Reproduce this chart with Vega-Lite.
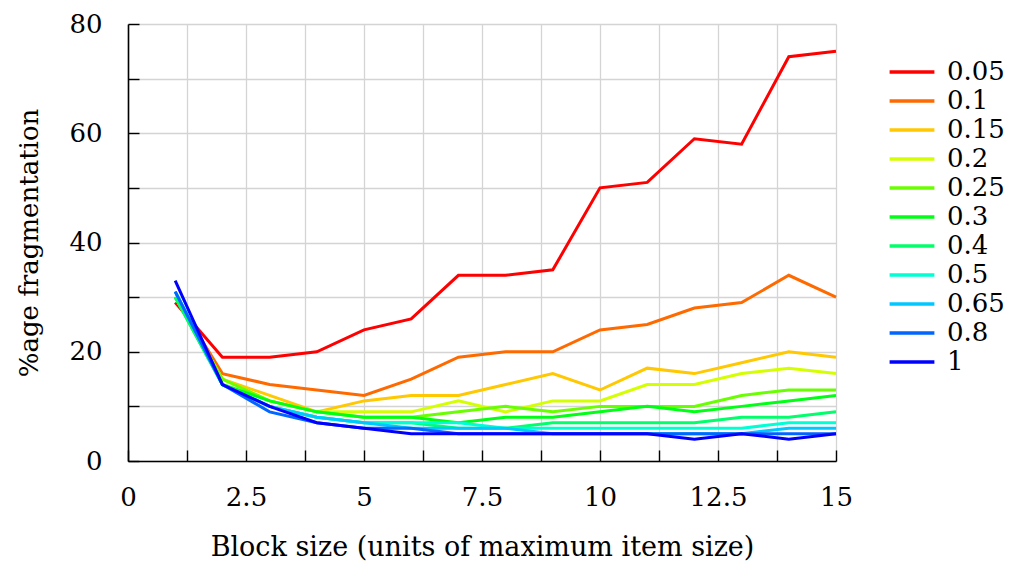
{
  "$schema": "https://vega.github.io/schema/vega-lite/v6.json",
  "width": 708,
  "height": 437,
  "autosize": {"type": "none"},
  "padding": {"left": 128, "top": 24, "right": 175, "bottom": 106},
  "background": "white",
  "config": {"view": {"stroke": null}, "font": "DejaVu Serif",
    "axis": {"labelFont": "DejaVu Serif", "titleFont": "DejaVu Serif"},
    "legend": {"labelFont": "DejaVu Serif"}},
  "datasets": {
    "d": [
      {"b":"0.05","x":1,"y":29},{"b":"0.05","x":2,"y":19},{"b":"0.05","x":3,"y":19},{"b":"0.05","x":4,"y":20},{"b":"0.05","x":5,"y":24},{"b":"0.05","x":6,"y":26},{"b":"0.05","x":7,"y":34},{"b":"0.05","x":8,"y":34},{"b":"0.05","x":9,"y":35},{"b":"0.05","x":10,"y":50},{"b":"0.05","x":11,"y":51},{"b":"0.05","x":12,"y":59},{"b":"0.05","x":13,"y":58},{"b":"0.05","x":14,"y":74},{"b":"0.05","x":15,"y":75},
      {"b":"0.1","x":1,"y":30},{"b":"0.1","x":2,"y":16},{"b":"0.1","x":3,"y":14},{"b":"0.1","x":4,"y":13},{"b":"0.1","x":5,"y":12},{"b":"0.1","x":6,"y":15},{"b":"0.1","x":7,"y":19},{"b":"0.1","x":8,"y":20},{"b":"0.1","x":9,"y":20},{"b":"0.1","x":10,"y":24},{"b":"0.1","x":11,"y":25},{"b":"0.1","x":12,"y":28},{"b":"0.1","x":13,"y":29},{"b":"0.1","x":14,"y":34},{"b":"0.1","x":15,"y":30},
      {"b":"0.15","x":1,"y":30},{"b":"0.15","x":2,"y":15},{"b":"0.15","x":3,"y":12},{"b":"0.15","x":4,"y":9},{"b":"0.15","x":5,"y":11},{"b":"0.15","x":6,"y":12},{"b":"0.15","x":7,"y":12},{"b":"0.15","x":8,"y":14},{"b":"0.15","x":9,"y":16},{"b":"0.15","x":10,"y":13},{"b":"0.15","x":11,"y":17},{"b":"0.15","x":12,"y":16},{"b":"0.15","x":13,"y":18},{"b":"0.15","x":14,"y":20},{"b":"0.15","x":15,"y":19},
      {"b":"0.2","x":1,"y":30},{"b":"0.2","x":2,"y":15},{"b":"0.2","x":3,"y":11},{"b":"0.2","x":4,"y":9},{"b":"0.2","x":5,"y":9},{"b":"0.2","x":6,"y":9},{"b":"0.2","x":7,"y":11},{"b":"0.2","x":8,"y":9},{"b":"0.2","x":9,"y":11},{"b":"0.2","x":10,"y":11},{"b":"0.2","x":11,"y":14},{"b":"0.2","x":12,"y":14},{"b":"0.2","x":13,"y":16},{"b":"0.2","x":14,"y":17},{"b":"0.2","x":15,"y":16},
      {"b":"0.25","x":1,"y":30},{"b":"0.25","x":2,"y":15},{"b":"0.25","x":3,"y":11},{"b":"0.25","x":4,"y":9},{"b":"0.25","x":5,"y":8},{"b":"0.25","x":6,"y":8},{"b":"0.25","x":7,"y":9},{"b":"0.25","x":8,"y":10},{"b":"0.25","x":9,"y":9},{"b":"0.25","x":10,"y":10},{"b":"0.25","x":11,"y":10},{"b":"0.25","x":12,"y":10},{"b":"0.25","x":13,"y":12},{"b":"0.25","x":14,"y":13},{"b":"0.25","x":15,"y":13},
      {"b":"0.3","x":1,"y":30},{"b":"0.3","x":2,"y":14},{"b":"0.3","x":3,"y":11},{"b":"0.3","x":4,"y":9},{"b":"0.3","x":5,"y":8},{"b":"0.3","x":6,"y":8},{"b":"0.3","x":7,"y":7},{"b":"0.3","x":8,"y":8},{"b":"0.3","x":9,"y":8},{"b":"0.3","x":10,"y":9},{"b":"0.3","x":11,"y":10},{"b":"0.3","x":12,"y":9},{"b":"0.3","x":13,"y":10},{"b":"0.3","x":14,"y":11},{"b":"0.3","x":15,"y":12},
      {"b":"0.4","x":1,"y":30},{"b":"0.4","x":2,"y":14},{"b":"0.4","x":3,"y":10},{"b":"0.4","x":4,"y":8},{"b":"0.4","x":5,"y":7},{"b":"0.4","x":6,"y":7},{"b":"0.4","x":7,"y":6},{"b":"0.4","x":8,"y":6},{"b":"0.4","x":9,"y":7},{"b":"0.4","x":10,"y":7},{"b":"0.4","x":11,"y":7},{"b":"0.4","x":12,"y":7},{"b":"0.4","x":13,"y":8},{"b":"0.4","x":14,"y":8},{"b":"0.4","x":15,"y":9},
      {"b":"0.5","x":1,"y":31},{"b":"0.5","x":2,"y":14},{"b":"0.5","x":3,"y":10},{"b":"0.5","x":4,"y":8},{"b":"0.5","x":5,"y":7},{"b":"0.5","x":6,"y":7},{"b":"0.5","x":7,"y":7},{"b":"0.5","x":8,"y":6},{"b":"0.5","x":9,"y":6},{"b":"0.5","x":10,"y":6},{"b":"0.5","x":11,"y":6},{"b":"0.5","x":12,"y":6},{"b":"0.5","x":13,"y":6},{"b":"0.5","x":14,"y":7},{"b":"0.5","x":15,"y":7},
      {"b":"0.65","x":1,"y":31},{"b":"0.65","x":2,"y":14},{"b":"0.65","x":3,"y":10},{"b":"0.65","x":4,"y":8},{"b":"0.65","x":5,"y":7},{"b":"0.65","x":6,"y":6},{"b":"0.65","x":7,"y":6},{"b":"0.65","x":8,"y":6},{"b":"0.65","x":9,"y":5},{"b":"0.65","x":10,"y":5},{"b":"0.65","x":11,"y":5},{"b":"0.65","x":12,"y":5},{"b":"0.65","x":13,"y":5},{"b":"0.65","x":14,"y":6},{"b":"0.65","x":15,"y":6},
      {"b":"0.8","x":1,"y":31},{"b":"0.8","x":2,"y":14},{"b":"0.8","x":3,"y":9},{"b":"0.8","x":4,"y":7},{"b":"0.8","x":5,"y":6},{"b":"0.8","x":6,"y":6},{"b":"0.8","x":7,"y":5},{"b":"0.8","x":8,"y":5},{"b":"0.8","x":9,"y":5},{"b":"0.8","x":10,"y":5},{"b":"0.8","x":11,"y":5},{"b":"0.8","x":12,"y":5},{"b":"0.8","x":13,"y":5},{"b":"0.8","x":14,"y":5},{"b":"0.8","x":15,"y":5},
      {"b":"1","x":1,"y":33},{"b":"1","x":2,"y":14},{"b":"1","x":3,"y":10},{"b":"1","x":4,"y":7},{"b":"1","x":5,"y":6},{"b":"1","x":6,"y":5},{"b":"1","x":7,"y":5},{"b":"1","x":8,"y":5},{"b":"1","x":9,"y":5},{"b":"1","x":10,"y":5},{"b":"1","x":11,"y":5},{"b":"1","x":12,"y":4},{"b":"1","x":13,"y":5},{"b":"1","x":14,"y":4},{"b":"1","x":15,"y":5}
    ]
  },
  "data": {"name": "d"},
  "mark": {"type": "line", "strokeWidth": 3},
  "encoding": {
    "x": {
      "field": "x", "type": "quantitative",
      "scale": {"domain": [0, 15], "nice": false, "zero": false},
      "axis": {
        "values": [0, 1.25, 2.5, 3.75, 5, 6.25, 7.5, 8.75, 10, 11.25, 12.5, 13.75, 15],
        "labelExpr": "datum.value % 2.5 == 0 ? format(datum.value, '~g') : ''",
        "title": "Block size (units of maximum item size)",
        "grid": true, "gridColor": "#d4d4d4", "gridWidth": 1.3, "gridOpacity": 1,
        "domainColor": "black", "domainWidth": 1.6,
        "tickColor": "black", "tickWidth": 1.4, "tickSize": -11,
        "encode": {"ticks": {"update": {"y2": {"signal": "datum.value % 2.5 == 0 ? -11 : -6"}}}},
        "labelPadding": 34, "labelFontSize": 26, "labelColor": "black",
        "labelFlush": false, "labelOverlap": false,
        "titleFontSize": 27, "titleFontWeight": "normal", "titleColor": "black", "titlePadding": 24
      }
    },
    "y": {
      "field": "y", "type": "quantitative",
      "scale": {"domain": [0, 80], "nice": false},
      "axis": {
        "values": [0, 10, 20, 30, 40, 50, 60, 70, 80],
        "labelExpr": "datum.value % 20 == 0 ? format(datum.value, '~g') : ''",
        "title": "%age fragmentation",
        "grid": true, "gridColor": "#d4d4d4", "gridWidth": 1.3, "gridOpacity": 1,
        "domainColor": "black", "domainWidth": 1.6,
        "tickColor": "black", "tickWidth": 1.4, "tickSize": -11,
        "encode": {"ticks": {"update": {"x2": {"signal": "datum.value % 20 == 0 ? 11 : 6"}}}},
        "labelPadding": 37, "labelFontSize": 26, "labelColor": "black",
        "labelFlush": false, "labelOverlap": false,
        "titleFontSize": 26, "titleFontWeight": "normal", "titleColor": "black", "titlePadding": 26
      }
    },
    "color": {
      "field": "b", "type": "nominal",
      "scale": {
        "domain": ["0.05", "0.1", "0.15", "0.2", "0.25", "0.3", "0.4", "0.5", "0.65", "0.8", "1"],
        "range": ["#ff0000", "#ff6a00", "#ffc800", "#d4ff00", "#6aff00", "#00ff15", "#00ff6a", "#00ffd4", "#00c8ff", "#0066ff", "#0000ff"]
      },
      "legend": {
        "title": null, "orient": "none", "legendX": 768, "legendY": 32,
        "symbolType": "M-1.6,0H1.6", "symbolSize": 784, "symbolStrokeWidth": 3.4,
        "labelFontSize": 26, "labelColor": "black", "labelOffset": 19,
        "rowPadding": 0, "labelLimit": 200
      }
    }
  }
}
